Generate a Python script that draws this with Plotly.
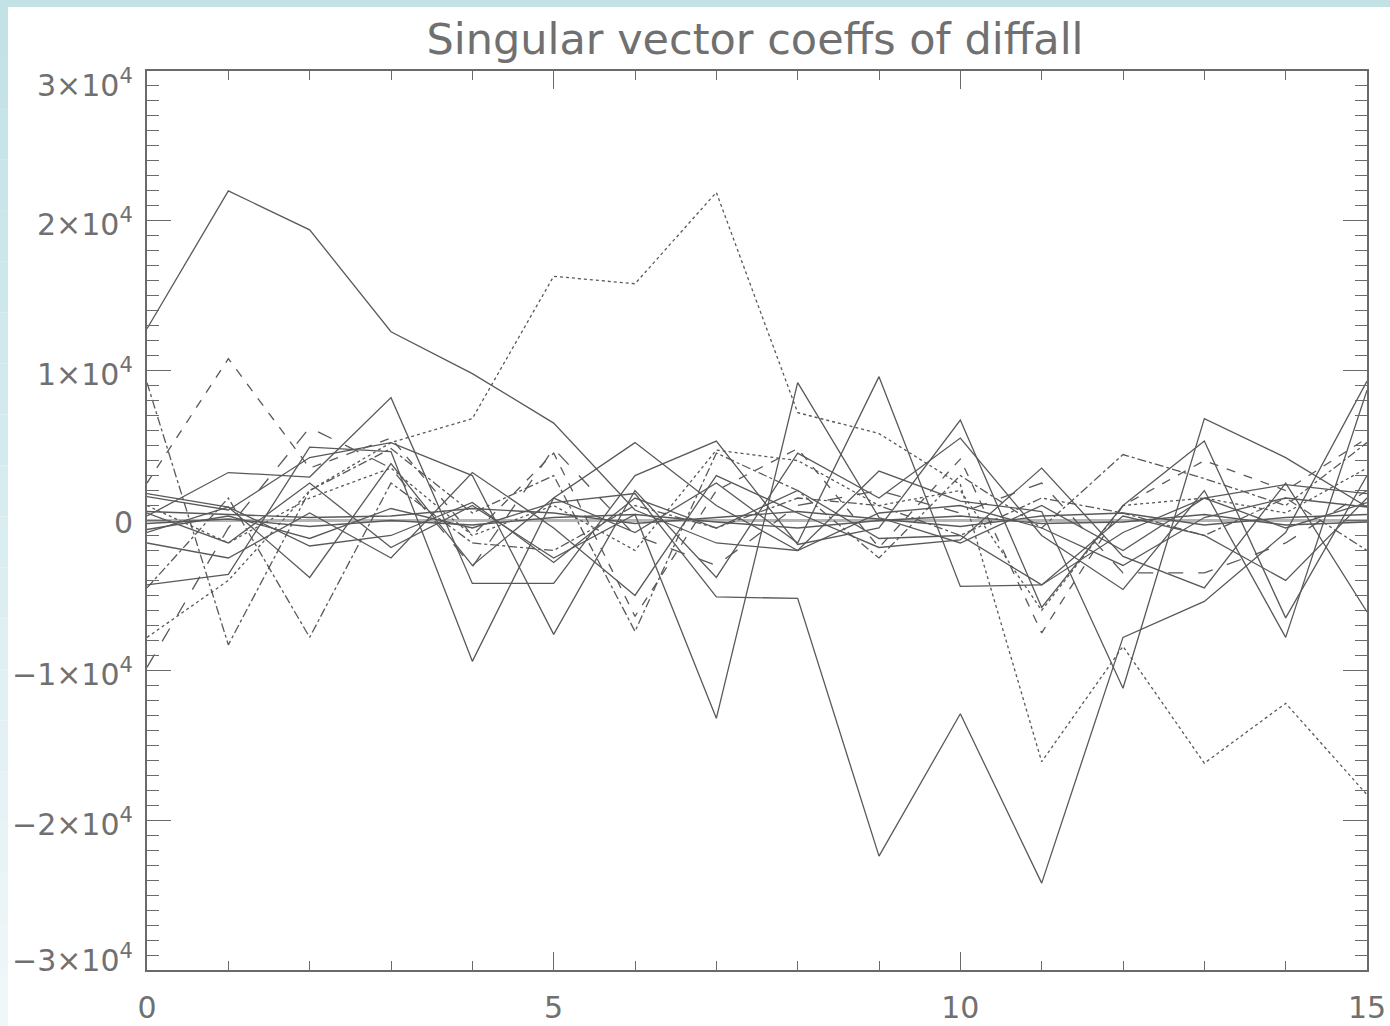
import plotly.graph_objects as go

x_idx = list(range(16))

# solid series
s1 = [12800, 22000, 19400, 12600, 9800, 6500, 700, -1500, -2000, 500, 1000, -500, -3000, 200, 1500, 900]
s2 = [-600, 300, -1200, 800, -500, 1200, 1800, -5100, -5200, -22400, -12900, -24200, -7800, -5400, -800, 9300]
s3 = [500, -1500, 2500, -1800, 1000, -2500, 400, -13200, 9200, 200, -1500, 1000, -2000, 1500, -500, 1200]
s4 = [1800, 900, -3800, 3800, -3000, 1500, -800, 2500, -1500, 9600, -4400, -4300, -800, 1500, 2400, 1800]
s5 = [-4300, -3600, 4900, 4600, -9400, 1500, 5200, 1000, -2000, 3300, 1300, 600, -11200, 6800, 4200, 900]
s6 = [300, 3200, 2900, 8200, -4200, -4200, 3000, 5300, -1600, -500, 6700, -5800, 1000, 5300, -6500, 3000]
s7 = [1600, 700, 4200, 5200, 3000, -7600, 2000, -3800, 4500, 1500, 5500, -1000, -4600, 2000, -7800, 8700]
s8 = [-1500, -2500, 500, -2500, 3200, -500, -5000, 3000, 500, -1800, -1300, 3500, -2400, -4500, 2500, -6100]
s9 = [600, 400, 200, 300, 800, 500, -200, 200, 600, 100, -400, 300, 500, -300, 200, 400]
s10 = [-200, 100, -400, 0, -300, 200, 400, -100, -500, 0, 300, -200, -100, 400, -300, -100]
s11 = [-800, 900, -1700, -1000, 1200, -2800, 1500, -500, 2000, -1200, -1000, -4300, 300, -1000, -4000, 1500]
# dotted
b_dot = [-7800, -4000, 2000, 5200, 6800, 16300, 15800, 21900, 7200, 5800, 2400, -16100, -8400, -16200, -12200, -18300]
c_dot = [1000, -1500, 1500, 3500, -1000, 1000, -2000, 4700, 4000, 1000, 2000, -6000, 1000, 1500, 500, 3500]
# dashed
d1 = [2500, 10800, 3500, 5500, -1000, 4500, -6400, 2000, 4800, -1800, 4100, -7500, 1000, 4000, 2000, 5500]
d2 = [-9800, -500, 6200, 3500, -3100, 4800, -1000, -3000, 1000, 2000, 500, 2500, -3500, -3500, -1500, 2000]
# dash-dot
dd1 = [9200, -8300, 2000, 4800, 500, 3000, -7400, 4500, 2000, -2500, 3000, -500, 4400, 2800, 1000, 5200]
dd2 = [-4500, 1500, -7800, 2500, -1500, -2000, 1000, -500, 1500, 1000, -1000, 1500, 500, -1000, 1500, -2000]

series = [
    (s1, "solid"), (s2, "solid"), (s3, "solid"), (s4, "solid"), (s5, "solid"),
    (s6, "solid"), (s7, "solid"), (s8, "solid"), (s9, "solid"), (s10, "solid"),
    (s11, "solid"), (b_dot, "dot"), (c_dot, "dot"), (d1, "dash"), (d2, "longdash"),
    (dd1, "dashdot"), (dd2, "dashdot"),
]

y_ticks = [-30000, -20000, -10000, 0, 10000, 20000, 30000]
y_ticktext = ["\u22123\u00d710<sup>4</sup>", "\u22122\u00d710<sup>4</sup>", "\u22121\u00d710<sup>4</sup>", "0",
              "1\u00d710<sup>4</sup>", "2\u00d710<sup>4</sup>", "3\u00d710<sup>4</sup>"]
x_ticks = [0, 5, 10, 15]
x_ticktext = ["0", "5", "10", "15"]

LINE = "#595959"
AX = "#6a6a6a"
FONT = dict(family="DejaVu Sans", size=30, color="#707070")

fig = go.Figure()
for vals, dash in series:
    fig.add_trace(go.Scatter(x=x_idx, y=vals, mode="lines",
                             line=dict(color=LINE, width=1.3, dash=dash),
                             showlegend=False, hoverinfo="skip"))

W, H = 1390, 1026
L, R, T, B = 147, 23, 71, 56
pw, ph = W - L - R, H - T - B

def px_x(p):
    return (p - L) / pw

def px_y(p):
    return (H - B - p) / ph

shapes = []
band = "#c3e2e6"
shapes.append(dict(type="rect", xref="paper", yref="paper", x0=px_x(0), x1=px_x(W),
                   y0=px_y(7), y1=px_y(0), fillcolor=band, line_width=0, layer="below"))
n = 20
for k in range(n):
    f = k / (n - 1)
    r = int(195 + (240 - 195) * f)
    g = int(226 + (247 - 226) * f)
    bb = int(230 + (249 - 230) * f)
    shapes.append(dict(type="rect", xref="paper", yref="paper", x0=px_x(0), x1=px_x(8),
                       y0=px_y(7 + (H - 7) * (k + 1) / n), y1=px_y(7 + (H - 7) * k / n),
                       fillcolor=f"rgb({r},{g},{bb})", line_width=0, layer="below"))

# y tick labels as annotations (extreme labels sit inward, as in the reference)
annotations = []
for v, t in zip(y_ticks, y_ticktext):
    shift = -12 if v == max(y_ticks) else (12 if v == min(y_ticks) else -2)
    annotations.append(dict(x=0, xref="paper", xanchor="right", xshift=-12,
                            y=v, yref="y", yanchor="middle", yshift=shift,
                            text=t, showarrow=False, font=FONT))

fig.update_layout(
    width=W, height=H,
    margin=dict(l=L, r=R, t=T, b=B, autoexpand=False),
    paper_bgcolor="white", plot_bgcolor="white",
    shapes=shapes, annotations=annotations,
    title=dict(text="Singular vector coeffs of diffall", x=755 / W, xanchor="center",
               y=1 - 39 / H, yanchor="middle", automargin=False,
               font=dict(family="DejaVu Sans", size=43, color="#707070")),
    xaxis=dict(range=[0, 15], tickvals=x_ticks, ticktext=x_ticktext, automargin=False,
               ticks="inside", ticklen=18, tickwidth=1.2, tickcolor=AX,
               minor=dict(dtick=1, ticks="inside", ticklen=9, tickwidth=1.2, tickcolor=AX),
               showline=True, linecolor=AX, linewidth=1.5, mirror="ticks",
               showgrid=False, zeroline=False, tickfont=FONT, ticklabelstandoff=10),
    yaxis=dict(range=[-30000, 30000], tickvals=y_ticks, showticklabels=False, automargin=False,
               ticks="inside", ticklen=24, tickwidth=1.2, tickcolor=AX,
               minor=dict(dtick=1000, ticks="inside", ticklen=12, tickwidth=1.2, tickcolor=AX),
               showline=True, linecolor=AX, linewidth=1.5, mirror="ticks",
               showgrid=False, zeroline=True, zerolinecolor="#b5b5b5", zerolinewidth=3),
)

fig.write_html("out.html")
